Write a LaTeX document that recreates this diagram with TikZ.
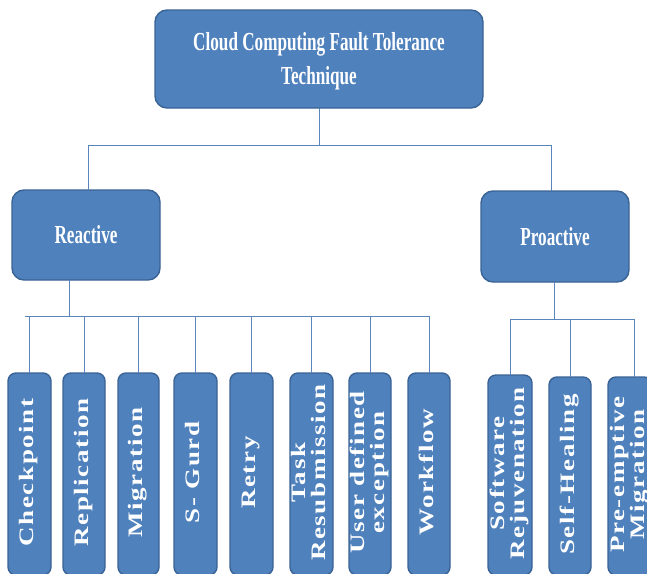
\documentclass[tikz,border=0pt]{standalone}
\usepackage{fontspec}
\usepackage{graphicx}
\setmainfont{Liberation Serif}
\definecolor{boxfill}{HTML}{4F81BD}
\definecolor{boxline}{HTML}{3A6395}
\definecolor{conn}{HTML}{5A84BC}
\newcommand{\hlab}[1]{\scalebox{0.66}[1]{\begin{tabular}{@{}c@{}}#1\end{tabular}}}
\newcommand{\vlab}[1]{\scalebox{1}[0.76]{\addfontfeatures{LetterSpace=6}\begin{tabular}{@{}c@{}}#1\end{tabular}}}
\begin{document}
\begin{tikzpicture}[x=1pt,y=-1pt,
  box/.style={draw=boxline,line width=1.4pt,fill=boxfill,rounded corners=12pt},
  leaf/.style={draw=boxline,line width=1.4pt,fill=boxfill,rounded corners=8pt},
  htext/.style={text=white,font=\bfseries\fontsize{26}{34}\selectfont},
  vtext/.style={rotate=90,text=white,font=\bfseries\fontsize{27}{26}\selectfont},
  conn/.style={draw=conn,line width=0.9pt}]
\useasboundingbox (0,0) rectangle (647,573);
% top level
\path[box] (155,10) rectangle (483,108);
\node[htext] (root) at (319,61) {\hlab{Cloud Computing Fault Tolerance\\Technique}};
\coordinate (rootS) at (319,108);
\path[box] (12,190) rectangle (160,280);
\node[htext] (react) at (86,237) {\hlab{Reactive}};
\path[box] (481,191) rectangle (629,282);
\node[htext] (proact) at (555,239) {\hlab{Proactive}};
\coordinate (reactN) at (88,190);
\coordinate (reactS) at (69,280);
\coordinate (proN) at (551,191);
\coordinate (proS) at (554,282);
\coordinate (topbus) at (0,145);
\coordinate (rbus) at (0,316);
\coordinate (pbus) at (0,319);
% leaves
\foreach \nm/\xa/\xb/\yt/\txt in {
  l1/8/51/373/{Checkpoint},
  l2/63/105/373/{Replication},
  l3/118/159/373/{Migration},
  l4/174/217/373/{S- Gurd},
  l5/230/273/373/{Retry},
  l6/290/333/373/{Task\\Resubmission},
  l7/349/391/373/{User defined\\exception},
  l8/408/450/373/{Workflow},
  p1/488/532/375/{Software\\Rejuvenation},
  p2/549/591/377/{Self-Healing},
  p3/608/652/377/{Pre-emptive\\Migration}}{
  \path[leaf] (\xa,\yt) rectangle (\xb,575);
  \coordinate (\nm) at ({(\xa+\xb)/2},\yt);
  \node[vtext] (\nm t) at ({(\xa+\xb)/2},{(\yt+572)/2}) {\vlab{\txt}};
}
% connectors
\draw[conn] (rootS) -- (rootS |- topbus);
\draw[conn] (reactN |- topbus) -- (proN |- topbus);
\draw[conn] (reactN |- topbus) -- (reactN);
\draw[conn] (proN |- topbus) -- (proN);
\draw[conn] (reactS) -- (reactS |- rbus);
\draw[conn] ([xshift=-5pt]l1 |- rbus) -- (l8 |- rbus);
\foreach \n in {l1,l2,l3,l4,l5,l6,l7,l8}{\draw[conn] (\n |- rbus) -- (\n);}
\draw[conn] (proS) -- (proS |- pbus);
\draw[conn] (p1 |- pbus) -- ([xshift=4pt]p3 |- pbus);
\draw[conn] (p1 |- pbus) -- (p1);
\draw[conn] (p2 |- pbus) -- (p2);
\draw[conn] ([xshift=4pt]p3 |- pbus) -- ([xshift=4pt]p3);
\end{tikzpicture}
\end{document}
